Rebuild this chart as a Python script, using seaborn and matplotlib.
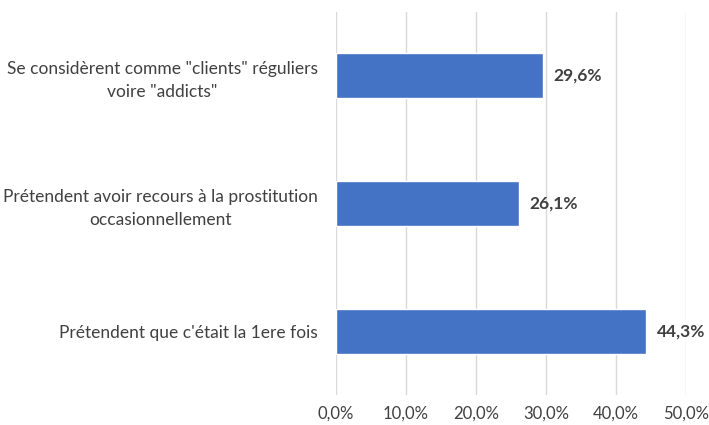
import pandas as pd
import matplotlib
matplotlib.use("Agg")
import matplotlib.pyplot as plt
from matplotlib.ticker import FuncFormatter, MultipleLocator
import seaborn as sns

#### DATA

categories = [
    'Se considèrent comme "clients" réguliers\nvoire "addicts"',
    'Prétendent avoir recours à la prostitution\noccasionnellement',
    "Prétendent que c'était la 1ere fois",
]
values = [29.6, 26.1, 44.3]

df = pd.DataFrame({"Categorie": categories, "Pourcentage": values})

sns.set_theme(style="white")
plt.rcParams['font.family'] = ['Lato', 'DejaVu Sans']

fig = plt.figure(figsize=(7.09, 4.25), dpi=100)
ax = fig.add_axes([0.474, 0.0706, 0.4936, 0.9012])

sns.barplot(data=df, x="Pourcentage", y="Categorie", orient="h",
            color="#4472C4", saturation=1, width=0.35, ax=ax)

ax.set_xlim(0, 50)
ax.set_ylim(2.5, -0.5)
ax.xaxis.set_major_locator(MultipleLocator(10))
ax.xaxis.set_major_formatter(FuncFormatter(lambda v, p: f"{v:.1f}%".replace(".", ",")))
ax.grid(axis="x", color="#D9D9D9", linewidth=1)
ax.set_axisbelow(True)
for s in ax.spines.values():
    s.set_visible(False)

ax.set_xlabel("")
ax.set_ylabel("")
ax.tick_params(axis="both", length=0, labelsize=12, colors="#404040")
ax.tick_params(axis="x", pad=8)
ax.tick_params(axis="y", pad=13, labelsize=12.5)
for lbl in ax.get_yticklabels():
    lbl.set_multialignment("center")
    lbl.set_linespacing(1.55)

for i, v in enumerate(values):
    ax.text(v + 1.5, i, f"{v:.1f}%".replace(".", ","), va="center", ha="left",
            fontsize=12.5, fontweight="bold", color="#404040")

plt.savefig("out.png", dpi=100)
